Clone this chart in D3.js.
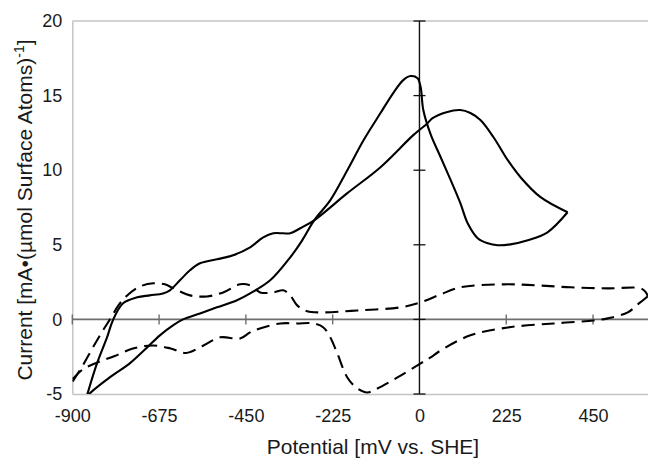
<!DOCTYPE html>
<html>
<head>
<meta charset="utf-8">
<script src="https://cdn.jsdelivr.net/npm/d3@7"></script>
<style>
  html, body { margin: 0; padding: 0; background: #fff; }
  svg { display: block; }
  text { font-family: "Liberation Sans", Arial, sans-serif; fill: #1a1a1a; }
</style>
</head>
<body>
<svg id="chart" width="648" height="459"></svg>
<script>
// ---- data ----
const xTicks = [-900, -675, -450, -225, 0, 225, 450];
const yTicks = [-5, 0, 5, 10, 15, 20];

// solid curve, forward (anodic) sweep
const solidFwdPotential = [-872, -862, -836, -810, -795, -769, -732, -699, -665, -647, -621, -595, -569, -525, -483, -439, -405, -379, -353, -335, -309, -273, -187, -101, -16, 21, 34, 70, 106, 132, 158, 192, 229, 262, 314, 384];
const solidFwdCurrent   = [-6.0, -5.1, -2.95, -1.21, -0.07, 1.07, 1.48, 1.61, 1.74, 1.95, 2.62, 3.29, 3.76, 4.03, 4.30, 4.83, 5.50, 5.77, 5.77, 5.77, 6.11, 6.64, 8.46, 10.20, 12.35, 13.15, 13.49, 13.89, 14.03, 13.83, 13.36, 12.21, 10.67, 9.53, 8.19, 7.18];

// solid curve, reverse (cathodic) sweep
const solidRevPotential = [384, 332, 281, 236, 203, 177, 151, 125, 106, 81, 55, 29, 10, 3, -5, -23, -42, -68, -101, -145, -187, -231, -273, -304, -335, -387, -439, -473, -525, -569, -613, -639, -673, -706, -751, -803, -860, -872];
const solidRevCurrent   = [7.18, 5.84, 5.30, 5.03, 4.97, 5.10, 5.44, 6.44, 7.79, 9.33, 10.87, 12.40, 14.03, 15.57, 16.17, 16.31, 16.04, 15.17, 13.83, 12.01, 10.0, 7.99, 6.64, 5.30, 4.16, 2.62, 1.74, 1.28, 0.81, 0.40, 0, -0.40, -1.07, -1.88, -2.95, -3.89, -5.1, -5.6];

// dashed curve, forward sweep (upper branch)
const dashFwdPotential = [-899, -873, -847, -822, -800, -780, -760, -725, -690, -660, -639, -595, -551, -509, -465, -439, -413, -379, -353, -335, -317, -291, -249, -161, -49, 3, 55, 106, 218, 306, 392, 488, 574, 587, 592];
const dashFwdCurrent   = [-4.16, -3.1, -1.9, -0.8, 0.1, 0.95, 1.55, 2.2, 2.42, 2.35, 2.1, 1.61, 1.54, 1.81, 2.35, 2.28, 1.81, 1.81, 1.95, 1.61, 0.94, 0.54, 0.47, 0.60, 0.81, 1.14, 1.68, 2.15, 2.35, 2.28, 2.15, 2.08, 2.08, 1.81, 1.54];

// dashed curve, reverse sweep (lower branch)
const dashRevPotential = [592, 569, 540, 488, 452, 348, 229, 132, 55, 29, 3, -57, -109, -135, -161, -187, -213, -231, -249, -275, -317, -361, -405, -439, -465, -517, -560, -605, -645, -690, -743, -790, -836, -873, -899];
const dashRevCurrent   = [1.54, 1.07, 0.47, 0.07, -0.07, -0.27, -0.54, -1.07, -2.08, -2.55, -2.95, -3.89, -4.63, -4.90, -4.63, -3.89, -2.28, -1.21, -0.54, -0.27, -0.27, -0.27, -0.54, -0.87, -1.28, -1.2, -1.75, -2.25, -1.95, -1.75, -1.95, -2.45, -2.9, -3.35, -4.0];

const xTitle = "Potential [mV vs. SHE]";

// ---- layout ----
const svg = d3.select("#chart");
const pLeft = 72.3, pRight = 650.9, pTop = 21, pBottom = 394;

const x = d3.scaleLinear().domain([-900, 600]).range([pLeft, pRight]);
const y = d3.scaleLinear().domain([-5, 20]).range([pBottom, pTop]);

// frame (light gray) : top line
svg.append("line")
  .attr("x1", pLeft).attr("x2", pRight).attr("y1", pTop).attr("y2", pTop)
  .attr("stroke", "#c4c4c4").attr("stroke-width", 1.5);

// bottom axis: domain = bottom frame, labels
const gx = svg.append("g").attr("transform", `translate(0,${pBottom})`)
  .call(d3.axisBottom(x).tickValues(xTicks).tickSize(0).tickPadding(15).tickFormat(d => String(d)));
gx.select(".domain").attr("stroke", "#c4c4c4").attr("stroke-width", 1.5);
gx.selectAll("text").attr("font-size", 18).style("font-family", "Liberation Sans, Arial, sans-serif").attr("fill", "#1a1a1a");

// left axis: domain = left frame, labels
const gy = svg.append("g").attr("transform", `translate(${pLeft},0)`)
  .call(d3.axisLeft(y).tickValues(yTicks).tickSize(0).tickPadding(10).tickFormat(d => String(d)));
gy.select(".domain").attr("stroke", "#c4c4c4").attr("stroke-width", 1.5);
gy.selectAll("text").attr("font-size", 18).style("font-family", "Liberation Sans, Arial, sans-serif").attr("fill", "#1a1a1a");

// zero axes
const x0 = x(0), y0 = y(0);
svg.append("line")
  .attr("x1", pLeft).attr("x2", pRight).attr("y1", y0).attr("y2", y0)
  .attr("stroke", "#6e6e6e").attr("stroke-width", 1.6);
svg.selectAll(".xt").data(xTicks.filter(d => d !== 0)).enter().append("line")
  .attr("x1", d => x(d)).attr("x2", d => x(d)).attr("y1", y0 - 5).attr("y2", y0 + 5)
  .attr("stroke", "#6e6e6e").attr("stroke-width", 1.4);

svg.append("line")
  .attr("x1", x0).attr("x2", x0).attr("y1", pTop).attr("y2", pBottom)
  .attr("stroke", "#111").attr("stroke-width", 1.4);
svg.selectAll(".yt").data(yTicks).enter().append("line")
  .attr("x1", x0 - 6).attr("x2", x0 + 6).attr("y1", d => y(d)).attr("y2", d => y(d))
  .attr("stroke", "#111").attr("stroke-width", 1.3);

// clip
svg.append("clipPath").attr("id", "plotclip").append("rect")
  .attr("x", pLeft).attr("y", pTop).attr("width", pRight - pLeft).attr("height", pBottom - pTop);

const line = d3.line().x(d => x(d[0])).y(d => y(d[1])).curve(d3.curveCatmullRom.alpha(0.5));
const zip = (a, b) => a.map((v, i) => [v, b[i]]);

const series = [
  { p: solidFwdPotential, c: solidFwdCurrent, dash: null },
  { p: solidRevPotential, c: solidRevCurrent, dash: null },
  { p: dashFwdPotential, c: dashFwdCurrent, dash: "13,7" },
  { p: dashRevPotential, c: dashRevCurrent, dash: "13,7" }
];
const plot = svg.append("g").attr("clip-path", "url(#plotclip)");
series.forEach(s => {
  plot.append("path")
    .attr("d", line(zip(s.p, s.c)))
    .attr("fill", "none")
    .attr("stroke", "#000")
    .attr("stroke-width", 2.1)
    .attr("stroke-dasharray", s.dash)
    .attr("stroke-linejoin", "round");
});

// axis titles
svg.append("text")
  .attr("x", 373).attr("y", 454)
  .attr("text-anchor", "middle").attr("font-size", 21)
  .text(xTitle);

const yt = svg.append("text")
  .attr("transform", "translate(32,210) rotate(-90)")
  .attr("text-anchor", "middle").attr("font-size", 21);
yt.append("tspan").text("Current [mA\u2022(\u00b5mol Surface Atoms)");
yt.append("tspan").attr("font-size", 14).attr("dy", -8).text("-1");
yt.append("tspan").attr("dy", 8).text("]");
</script>
</body>
</html>
